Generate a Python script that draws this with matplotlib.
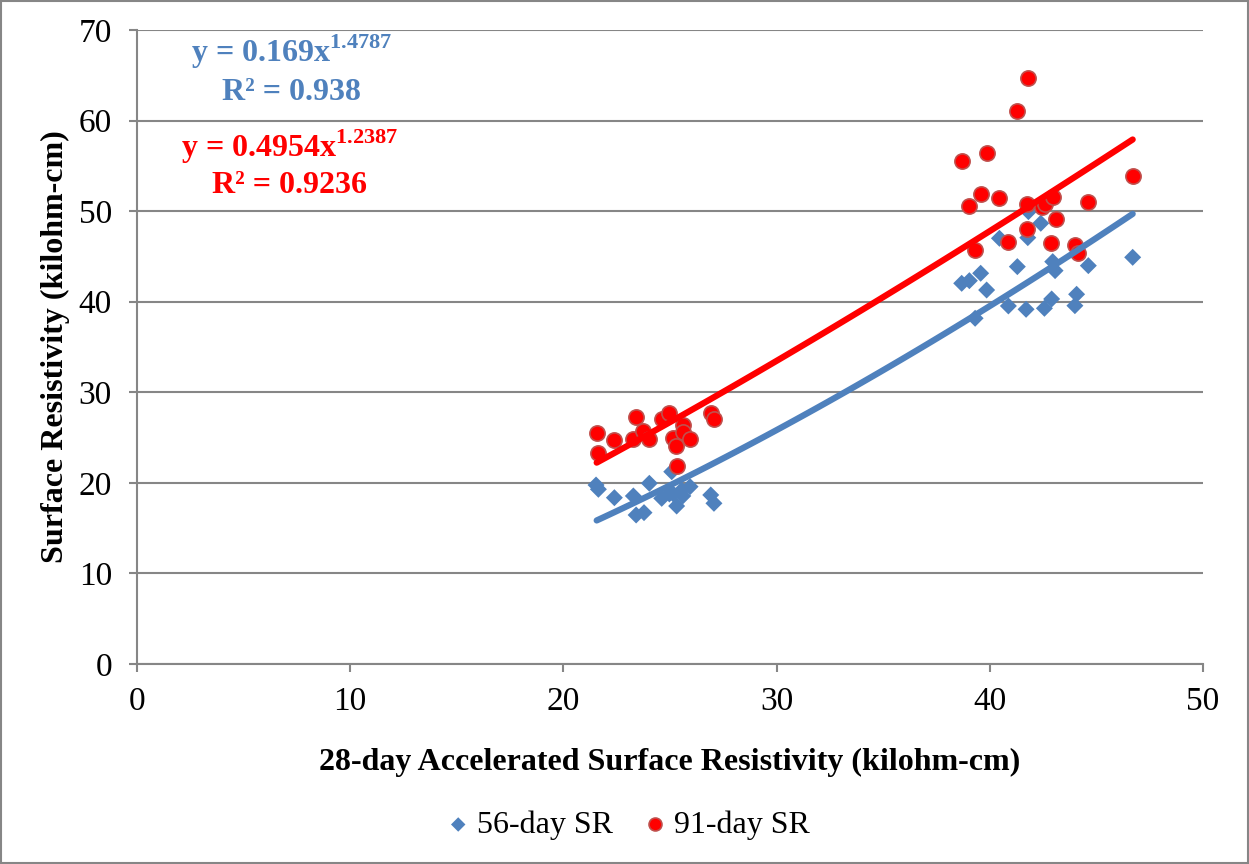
import numpy as np
import matplotlib.pyplot as plt
from matplotlib.patches import Rectangle

plt.rcParams['font.family'] = ['Liberation Serif', 'DejaVu Serif']
plt.rcParams['mathtext.fontset'] = 'custom'
plt.rcParams['mathtext.rm'] = 'Liberation Serif'
plt.rcParams['mathtext.bf'] = 'Liberation Serif:bold'

# 28-day accelerated SR (x) with 56-day and 91-day SR (y), kilohm-cm
x_sr28 = [21.56, 21.64, 22.39, 23.41, 23.28, 23.75, 24.03, 24.61, 24.97, 25.15,
          25.28, 25.31, 25.60, 25.60, 25.94, 26.91, 27.06,
          41.78, 41.29, 38.71, 39.85, 46.70, 39.04, 39.57, 40.45, 41.76, 42.43,
          42.59, 42.98, 44.62, 43.10, 41.73, 40.87, 42.87, 43.99, 44.12, 39.31]
y_sr91 = [25.54, 23.33, 24.73, 27.30, 24.88, 25.76, 24.81, 27.02, 27.75, 24.92,
          24.07, 21.86, 26.39, 25.65, 24.88, 27.75, 27.02,
          64.67, 61.06, 55.57, 56.45, 53.92, 50.57, 51.86, 51.49, 50.75, 50.49,
          50.79, 51.60, 51.05, 49.13, 48.00, 46.59, 46.52, 46.26, 45.35, 45.71]

x_sr28_b = [21.53, 21.64, 22.39, 23.41, 23.28, 23.78, 24.03, 24.61, 24.97, 25.15,
            25.08, 25.31, 25.60, 25.55, 25.94, 26.91, 27.06,
            41.81, 42.39, 40.45, 41.78, 46.70, 38.68, 39.04, 39.57, 39.85, 41.29,
            42.95, 43.06, 44.62, 39.31, 40.87, 41.70, 42.56, 42.90, 43.99, 44.07]
y_sr56 = [19.76, 19.29, 18.36, 16.45, 18.55, 16.71, 19.95, 18.29, 18.77, 18.77,
          21.23, 17.44, 18.55, 19.20, 19.58, 18.66, 17.74,
          49.94, 48.66, 47.00, 47.07, 44.90, 42.03, 42.32, 43.14, 41.29, 43.87,
          44.42, 43.43, 43.98, 38.17, 39.53, 39.16, 39.27, 40.30, 39.56, 40.82]

# power trendlines y = a * x^b
fit56 = (0.169, 1.4787, 0.938)
fit91 = (0.4954, 1.2387, 0.9236)

blue = '#4F81BD'
red = '#FF0000'
grey = '#868686'

fig = plt.figure(figsize=(12.49, 8.64), dpi=100)
ax = fig.add_axes([0.1097, 0.2315, 0.8535, 0.7338])

xf = np.linspace(min(x_sr28), max(x_sr28), 100)
ax.scatter(x_sr28_b, y_sr56, marker='D', s=75, color=blue, edgecolors='none',
           zorder=3, label='56-day SR')
ax.scatter(x_sr28, y_sr91, marker='o', s=120, color=red, edgecolors='#C0504D',
           linewidths=1.2, zorder=4, label='91-day SR')
ax.plot(xf, fit56[0] * xf ** fit56[1], color=blue, lw=4.5, zorder=5,
        solid_capstyle='round')
ax.plot(xf, fit91[0] * xf ** fit91[1], color=red, lw=4.5, zorder=5,
        solid_capstyle='round')

ax.set_xlim(0, 50)
ax.set_ylim(0, 70)
ax.set_xticks(range(0, 51, 10))
ax.set_yticks(range(0, 71, 10))
ax.yaxis.grid(True, color=grey, lw=1.5)
ax.set_axisbelow(True)
for s in ['top', 'right']:
    ax.spines[s].set_visible(False)
for s in ['left', 'bottom']:
    ax.spines[s].set_color(grey)
    ax.spines[s].set_linewidth(1.5)
ax.tick_params(axis='both', direction='out', length=6, width=1.5, color=grey,
               labelsize=24)
ax.tick_params(axis='y', pad=12)
ax.tick_params(axis='x', pad=10)

ax.set_xlabel('28-day Accelerated Surface Resistivity (kilohm-cm)',
              fontsize=23, fontweight='bold')
ax.set_ylabel('Surface Resistivity (kilohm-cm)', fontsize=23, fontweight='bold')
ax.xaxis.set_label_coords(0.5, -0.133)
ax.yaxis.set_label_coords(-0.063, 0.5)

ax.text(0.145, 0.965, r'y = 0.169x$^{\mathbf{1.4787}}$', transform=ax.transAxes,
        color=blue, fontsize=23, fontweight='bold', ha='center', va='center')
ax.text(0.145, 0.902, 'R² = 0.938', transform=ax.transAxes,
        color=blue, fontsize=23, fontweight='bold', ha='center', va='center')
ax.text(0.143, 0.815, r'y = 0.4954x$^{\mathbf{1.2387}}$', transform=ax.transAxes,
        color=red, fontsize=23, fontweight='bold', ha='center', va='center')
ax.text(0.143, 0.755, 'R² = 0.9236', transform=ax.transAxes,
        color=red, fontsize=23, fontweight='bold', ha='center', va='center')

fig.legend(loc='center', bbox_to_anchor=(0.5, 0.045), ncol=2, frameon=False,
           fontsize=23, handletextpad=0.0, handlelength=1.2, columnspacing=0.7,
           markerscale=0.85)

fig.patches.append(Rectangle((0.001, 0.001), 0.998, 0.998, transform=fig.transFigure,
                             fill=False, edgecolor=grey, lw=1.5))

fig.savefig('out.png', dpi=100)
